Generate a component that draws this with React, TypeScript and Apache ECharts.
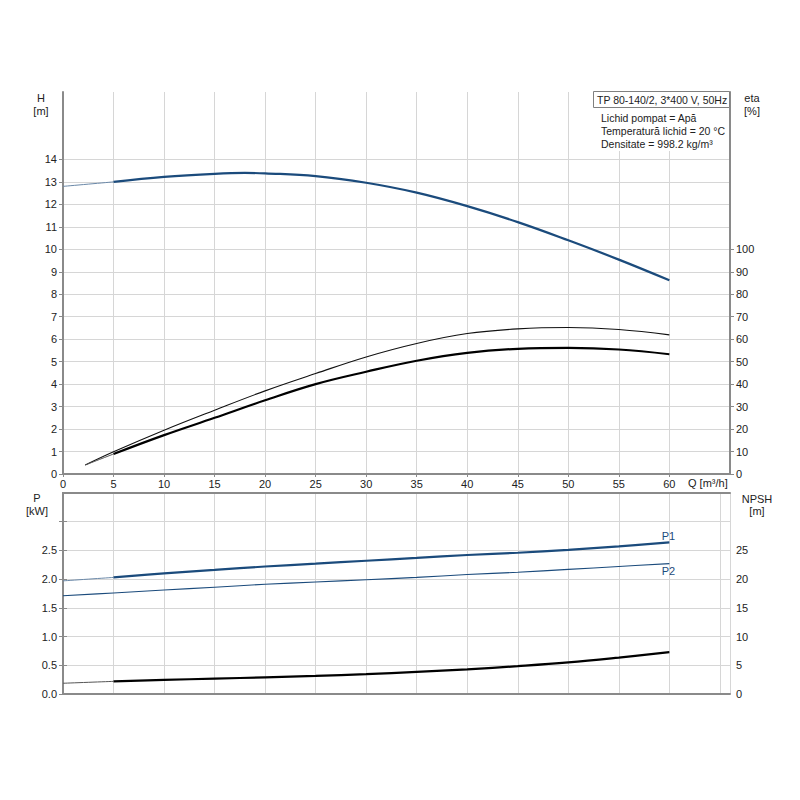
import React, { useEffect, useRef } from "react";
import * as echarts from "echarts";

const Q_H = [0, 5, 10, 15, 18, 20, 25, 30, 35, 40, 45, 50, 55, 60];
const H = [12.8, 13.0, 13.22, 13.36, 13.4, 13.38, 13.26, 12.96, 12.52, 11.92, 11.21, 10.4, 9.54, 8.62];

const Q_ETA = [2.2, 5, 10, 15, 20, 25, 30, 35, 40, 45, 50, 55, 60];
const ETA_LOWER = [4.0, 8.9, 17.3, 25.0, 32.8, 40.0, 45.5, 50.4, 53.9, 55.7, 56.1, 55.4, 53.3];
const ETA_UPPER = [4.0, 9.9, 19.5, 28.4, 37.0, 44.7, 52.1, 58.1, 62.5, 64.6, 65.2, 64.3, 61.9];

const Q_P = [0, 5, 10, 15, 20, 25, 30, 35, 40, 45, 50, 55, 60];
const P1 = [1.97, 2.03, 2.1, 2.16, 2.22, 2.27, 2.32, 2.37, 2.42, 2.46, 2.51, 2.57, 2.64];
const P2 = [1.71, 1.76, 1.81, 1.86, 1.91, 1.95, 1.99, 2.03, 2.08, 2.12, 2.17, 2.22, 2.27];
const NPSH = [1.87, 2.2, 2.45, 2.68, 2.9, 3.15, 3.45, 3.85, 4.3, 4.85, 5.5, 6.35, 7.3];

const X_LABELS = [0, 5, 10, 15, 20, 25, 30, 35, 40, 45, 50, 55, 60];
const H_LABELS = [0, 1, 2, 3, 4, 5, 6, 7, 8, 9, 10, 11, 12, 13, 14];
const ETA_LABELS = [0, 10, 20, 30, 40, 50, 60, 70, 80, 90, 100];
const P_LABELS = [0, 0.5, 1, 1.5, 2, 2.5];
const P_TICKS = [0, 0.5, 1, 1.5, 2, 2.5, 3];
const NPSH_LABELS = [0, 5, 10, 15, 20, 25];
const NPSH_TICKS = [0, 5, 10, 15, 20, 25, 30];

const INFO_TITLE = "TP 80-140/2, 3*400 V, 50Hz";
const INFO_LINES = ["Lichid pompat = Apă", "Temperatură lichid = 20 °C", "Densitate = 998.2 kg/m³"];

const FONT = "'Liberation Sans', Arial, sans-serif";
const BLUE = "#1b4b7c";
const AXIS_COLOR = "#8a8a8a";
const GRID_COLOR = "#d6d6d6";

const zip = (xs: number[], ys: number[]) => xs.map((x, i) => [x, ys[i]]);
const head = (xs: number[], ys: number[], lim: number) =>
  zip(xs, ys).filter((p) => p[0] <= lim);
const tail = (xs: number[], ys: number[], lim: number) =>
  zip(xs, ys).filter((p) => p[0] >= lim);

export default function App() {
  const ref = useRef<HTMLDivElement>(null);
  useEffect(() => {
    if (!ref.current) return;
    const chart = echarts.init(ref.current, null, { renderer: "svg" });
    const labelStyle = { color: "#222", fontSize: 11, fontFamily: FONT };
    const axisLine = { show: true, lineStyle: { color: AXIS_COLOR, width: 2 } };
    const xAxisBase = (grid: number, labels: boolean) => ({
      type: "value",
      gridIndex: grid,
      min: 0,
      max: 66,
      interval: 5,
      axisLine: { ...axisLine, onZero: false },
      axisTick: labels
        ? { show: true, length: 3, lineStyle: { color: AXIS_COLOR }, customValues: X_LABELS }
        : { show: false },
      axisLabel: labels
        ? { show: true, ...labelStyle, margin: 4, customValues: X_LABELS }
        : { show: false },
      splitLine: { show: true, lineStyle: { color: GRID_COLOR, width: 1 } },
    });
    const line = (
      name: string,
      data: number[][],
      xi: number,
      yi: number,
      color: string,
      width: number,
      extra: any = {}
    ) => ({
      name,
      type: "line",
      xAxisIndex: xi,
      yAxisIndex: yi,
      data,
      smooth: 0.4,
      showSymbol: false,
      symbol: "none",
      lineStyle: { color, width },
      z: 5,
      ...extra,
    });
    chart.setOption({
      animation: false,
      backgroundColor: "#ffffff",
      grid: [
        { left: 63, right: 70, top: 92, height: 382, containLabel: false },
        { left: 63, right: 70, top: 493, height: 201, containLabel: false },
      ],
      xAxis: [
        xAxisBase(0, true),
        xAxisBase(1, false),
        {
          type: "value",
          gridIndex: 1,
          position: "top",
          min: 0,
          max: 66,
          axisLine: { ...axisLine, onZero: false },
          axisTick: { show: false },
          axisLabel: { show: false },
          splitLine: { show: false },
        },
      ],
      yAxis: [
        {
          type: "value",
          gridIndex: 0,
          position: "left",
          min: 0,
          max: 17,
          interval: 1,
          axisLine,
          axisTick: { show: true, length: 4, lineStyle: { color: AXIS_COLOR }, customValues: H_LABELS },
          axisLabel: { ...labelStyle, margin: 6, customValues: H_LABELS },
          splitLine: { show: true, lineStyle: { color: GRID_COLOR, width: 1 } },
        },
        {
          type: "value",
          gridIndex: 0,
          position: "right",
          min: 0,
          max: 170,
          interval: 10,
          axisLine,
          axisTick: { show: true, length: 4, lineStyle: { color: AXIS_COLOR }, customValues: ETA_LABELS },
          axisLabel: { ...labelStyle, margin: 6, customValues: ETA_LABELS },
          splitLine: { show: false },
        },
        {
          type: "value",
          gridIndex: 1,
          position: "left",
          min: 0,
          max: 3.5,
          interval: 0.5,
          axisLine,
          axisTick: { show: true, length: 4, lineStyle: { color: AXIS_COLOR }, customValues: P_TICKS },
          axisLabel: {
            ...labelStyle,
            margin: 6,
            customValues: P_LABELS,
            formatter: (v: number) => v.toFixed(1),
          },
          splitLine: { show: true, lineStyle: { color: GRID_COLOR, width: 1 } },
        },
        {
          type: "value",
          gridIndex: 1,
          position: "right",
          min: 0,
          max: 35,
          interval: 5,
          axisLine,
          axisTick: { show: true, length: 4, lineStyle: { color: AXIS_COLOR }, customValues: NPSH_TICKS },
          axisLabel: { ...labelStyle, margin: 6, customValues: NPSH_LABELS },
          splitLine: { show: false },
        },
      ],
      series: [
        line("H ext", head(Q_H, H, 5), 0, 0, "#6a88a8", 1),
        line("H", tail(Q_H, H, 5), 0, 0, BLUE, 2.2),
        line("eta upper", zip(Q_ETA, ETA_UPPER), 0, 1, "#111", 1.1),
        line("eta lower ext", head(Q_ETA, ETA_LOWER, 5), 0, 1, "#555", 1),
        line("eta lower", tail(Q_ETA, ETA_LOWER, 5), 0, 1, "#000", 2.2),
        line("P1 ext", head(Q_P, P1, 5), 1, 2, "#6a88a8", 1),
        line("P1", tail(Q_P, P1, 5), 1, 2, BLUE, 2.2, {
          endLabel: {
            show: true,
            formatter: "P1",
            color: BLUE,
            fontSize: 11,
            fontFamily: FONT,
            align: "center",
            verticalAlign: "bottom",
            distance: 0,
            offset: [-1, -1],
          },
        }),
        line("P2", zip(Q_P, P2), 1, 2, BLUE, 1.1, {
          endLabel: {
            show: true,
            formatter: "P2",
            color: BLUE,
            fontSize: 11,
            fontFamily: FONT,
            align: "center",
            verticalAlign: "top",
            distance: 0,
            offset: [-1, 2],
          },
        }),
        line("NPSH ext", head(Q_P, NPSH, 5), 1, 3, "#555", 1),
        line("NPSH", tail(Q_P, NPSH, 5), 1, 3, "#000", 2.2),
      ],
      graphic: [
        { type: "text", z: 100, x: 41, y: 98, style: { text: "H", ...gtext("center", 11) } },
        { type: "text", z: 100, x: 41, y: 111, style: { text: "[m]", ...gtext("center", 11) } },
        { type: "text", z: 100, x: 752, y: 98, style: { text: "eta", ...gtext("center", 11) } },
        { type: "text", z: 100, x: 752, y: 111, style: { text: "[%]", ...gtext("center", 11) } },
        { type: "text", z: 100, x: 37, y: 498, style: { text: "P", ...gtext("center", 11) } },
        { type: "text", z: 100, x: 37, y: 511, style: { text: "[kW]", ...gtext("center", 11) } },
        { type: "text", z: 100, x: 757, y: 499, style: { text: "NPSH", ...gtext("center", 11) } },
        { type: "text", z: 100, x: 757, y: 511, style: { text: "[m]", ...gtext("center", 11) } },
        { type: "text", z: 100, x: 688, y: 483, style: { text: "Q [m³/h]", ...gtext("left", 11) } },
        {
          type: "rect",
          z: 100,
          shape: { x: 599, y: 107, width: 129, height: 44 },
          style: { fill: "#ffffff", stroke: "none" },
        },
        {
          type: "rect",
          z: 101,
          shape: { x: 593.5, y: 91.5, width: 136, height: 16 },
          style: { fill: "#ffffff", stroke: "#808080", lineWidth: 1 },
        },
        { type: "text", z: 102, x: 597, y: 99.5, style: { text: INFO_TITLE, ...gtext("left", 10.5) } },
        ...INFO_LINES.map((t, i) => ({
          type: "text",
          z: 102,
          x: 601,
          y: 118 + i * 13,
          style: { text: t, ...gtext("left", 10.5) },
        })),
      ],
    });
    return () => chart.dispose();
  }, []);
  return (
    <div
      ref={ref}
      style={{ position: "absolute", left: 0, top: 0, width: 800, height: 800, background: "#fff" }}
    />
  );
}

function gtext(align: string, size: number) {
  return {
    fill: "#222",
    font: `${size}px ${FONT}`,
    align,
    verticalAlign: "middle",
  } as any;
}
